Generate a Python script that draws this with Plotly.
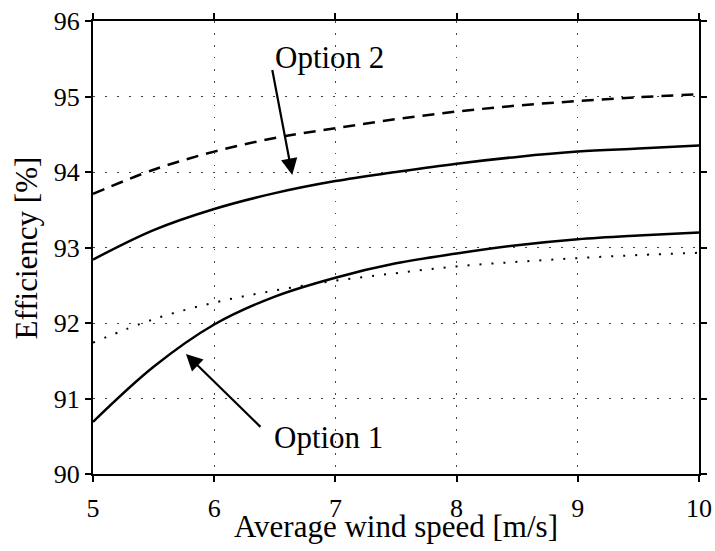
import plotly.graph_objects as go

wind_speed = [5, 5.5, 6, 6.5, 7, 7.5, 8, 8.5, 9, 9.5, 10]
opt2_dashed = [93.71, 94.03, 94.27, 94.45, 94.58, 94.70, 94.80, 94.88, 94.94, 94.99, 95.03]
opt2_solid = [92.84, 93.23, 93.51, 93.72, 93.88, 94.00, 94.11, 94.20, 94.27, 94.31, 94.35]
opt1_solid = [90.69, 91.42, 91.98, 92.35, 92.60, 92.79, 92.92, 93.03, 93.11, 93.16, 93.20]
opt1_dotted = [91.74, 92.05, 92.27, 92.43, 92.56, 92.66, 92.75, 92.81, 92.86, 92.90, 92.93]
x_ticks = [5, 6, 7, 8, 9, 10]
y_ticks = [90, 91, 92, 93, 94, 95, 96]

FONT = "Liberation Serif, Times New Roman, serif"

fig = go.Figure()
fig.add_trace(go.Scatter(x=wind_speed, y=opt2_dashed, mode="lines", line_shape="spline",
                         line=dict(color="black", width=2.5, dash="12px,8px"), showlegend=False))
fig.add_trace(go.Scatter(x=wind_speed, y=opt2_solid, mode="lines", line_shape="spline",
                         line=dict(color="black", width=2.5), showlegend=False))
fig.add_trace(go.Scatter(x=wind_speed, y=opt1_solid, mode="lines", line_shape="spline",
                         line=dict(color="black", width=2.5), showlegend=False))
fig.add_trace(go.Scatter(x=wind_speed, y=opt1_dotted, mode="lines", line_shape="spline",
                         line=dict(color="black", width=2, dash="2px,10px"), showlegend=False))

axis_common = dict(showline=True, linecolor="black", linewidth=2, mirror="ticks",
                   ticks="outside", ticklen=6, tickwidth=1.5, tickcolor="black",
                   showgrid=True, gridcolor="#444", gridwidth=1, griddash="1.5px,10.5px",
                   zeroline=False, automargin=False, ticklabeloverflow="allow",
                   tickfont=dict(family=FONT, size=26, color="black"))

fig.update_xaxes(range=[5, 10], tickvals=x_ticks, ticklabelstandoff=4, **axis_common)
fig.update_yaxes(range=[90, 96], tickvals=y_ticks, **axis_common)

title_font = dict(family=FONT, size=31, color="black")
fig.add_annotation(xref="paper", yref="paper", x=0.5, y=-0.115, yanchor="middle",
                   text="Average wind speed [m/s]", showarrow=False, font=title_font)
fig.add_annotation(xref="paper", yref="paper", x=-0.109, y=0.5, xanchor="center", yanchor="middle",
                   textangle=-90, text="Efficiency [%]", showarrow=False, font=title_font)

ann_font = dict(family=FONT, size=31, color="black")
fig.add_annotation(x=6.955, y=95.51, text="Option 2", showarrow=False, font=ann_font)
fig.add_annotation(x=6.947, y=90.49, text="Option 1", showarrow=False, font=ann_font)
fig.add_annotation(x=6.644, y=93.96, ax=6.477, ay=95.37, axref="x", ayref="y", text="",
                   showarrow=True, arrowhead=2, arrowsize=1.5, arrowwidth=2.2, arrowcolor="black")
fig.add_annotation(x=5.767, y=91.59, ax=6.394, ay=90.605, axref="x", ayref="y", text="",
                   showarrow=True, arrowhead=2, arrowsize=1.5, arrowwidth=2.2, arrowcolor="black")

fig.update_layout(width=715, height=551, margin=dict(l=93, r=16, t=21, b=77, autoexpand=False),
                  plot_bgcolor="white", paper_bgcolor="white")

fig.write_html("out.html", config={"displayModeBar": False},
               post_script="document.body.style.margin='0px';document.body.style.overflow='hidden';")
